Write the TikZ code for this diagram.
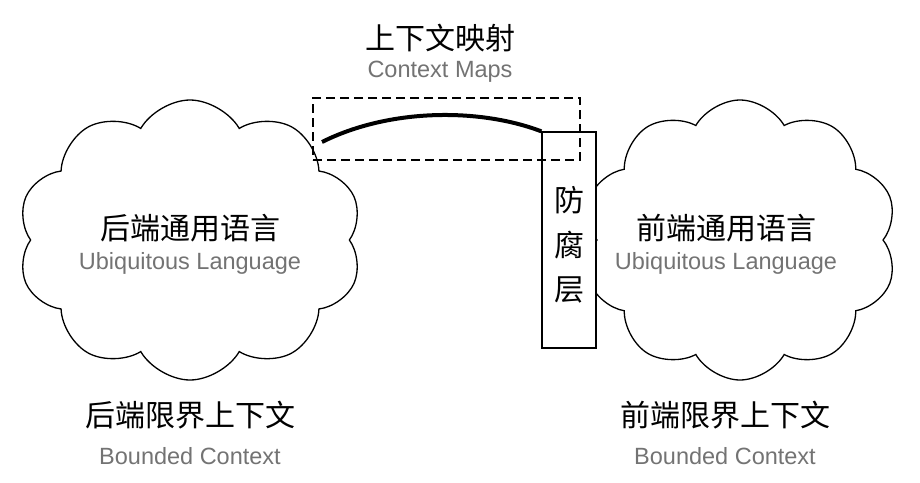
\documentclass[tikz,border=0pt]{standalone}
\usepackage{fontspec}
\setmainfont{Liberation Sans}
\newfontfamily\cjk{Noto Sans CJK SC}
\usetikzlibrary{shapes.symbols}
\tikzset{
  cn/.style={font=\cjk\fontsize{30}{34}\selectfont},
  en/.style={font=\fontsize{23.5}{26}\selectfont, text=black!55},
  ctx/.style={cloud, draw, line width=1.3pt, cloud puffs=10, cloud puff arc=120, aspect=1.3, inner sep=0pt}
}
\begin{document}
\begin{tikzpicture}[x=1pt,y=-1pt]
    \useasboundingbox (0,0) rectangle (920,482);

    % Clouds
    \node[ctx, minimum width=345, minimum height=280] (back) at (190,240) {};
    \node[ctx, minimum width=315, minimum height=280] (front) at (740,240) {};

    % Anti-corruption layer
    \node[draw, line width=1.3pt, fill=white, minimum width=54, minimum height=216, inner sep=0pt] (acl) at (569,240) {};
    \node[cn] at (569,200) {防};
    \node[cn] at (569,245) {腐};
    \node[cn] at (569,290) {层};

    % Context map
    \node[draw, line width=1.3pt, dash pattern=on 9pt off 5pt, minimum width=267, minimum height=62, inner sep=0pt] (map) at (446.5,129) {};
    \coordinate (mapL) at (322,142);
    \draw[line width=4pt] (mapL) .. controls (390,108) and (480,108) .. (acl.north west);

    % Labels
    \node[cn] at (440,38) {上下文映射};
    \node[en] at (440,72) {Context Maps};
    \node[cn] at (190,228) {后端通用语言};
    \node[en] at (190,263) {Ubiquitous Language};
    \node[cn] at (726,228) {前端通用语言};
    \node[en] at (726,263) {Ubiquitous Language};
    \node[cn] at (190,415) {后端限界上下文};
    \node[en] at (190,456) {Bounded Context};
    \node[cn] at (725,415) {前端限界上下文};
    \node[en] at (725,456) {Bounded Context};
\end{tikzpicture}
\end{document}
